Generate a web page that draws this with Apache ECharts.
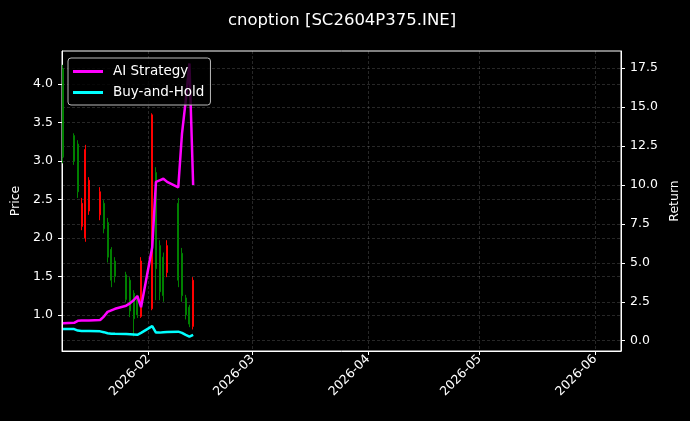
<!DOCTYPE html>
<html>
<head>
<meta charset="utf-8">
<script src="https://cdn.jsdelivr.net/npm/echarts@6/dist/echarts.min.js"></script>
<style>
html,body{margin:0;padding:0;background:#000;}
#chart{width:690px;height:421px;}
</style>
</head>
<body>
<div id="chart"></div>
<script>
// ---- data ----
const dates = ['2026-01-09','2026-01-12','2026-01-13','2026-01-14','2026-01-15','2026-01-16',
  '2026-01-19','2026-01-20','2026-01-21','2026-01-22','2026-01-23',
  '2026-01-26','2026-01-27','2026-01-28','2026-01-29','2026-01-30',
  '2026-02-02','2026-02-03','2026-02-04','2026-02-05','2026-02-06',
  '2026-02-09','2026-02-10','2026-02-11','2026-02-12','2026-02-13'];
const openP  = [4.20,3.33,3.22,2.15,2.00,2.35,2.30,2.45,2.20,1.85,1.70,1.52,1.45,1.28,1.22,0.98,1.08,2.85,1.90,1.75,1.55,2.45,1.80,1.22,1.10,0.85];
const closeP = [3.05,3.00,2.60,2.45,3.15,2.75,2.60,2.12,1.75,1.45,1.50,1.20,1.05,0.95,1.00,1.70,3.60,1.60,1.30,1.25,1.90,1.45,1.25,1.00,0.88,1.45];
const lowP   = [2.97,2.95,2.52,2.10,1.95,2.30,2.23,2.06,1.68,1.36,1.42,1.16,0.97,0.72,0.96,0.96,1.06,1.19,1.19,1.17,1.49,1.36,1.17,0.94,0.84,0.81];
const highP  = [4.25,3.36,3.27,2.52,3.21,2.79,2.66,2.49,2.26,1.88,1.75,1.56,1.49,1.32,1.26,1.75,3.62,2.92,1.97,1.81,1.97,2.52,1.87,1.26,1.13,1.49];
const aiReturn = [1.12,1.15,1.28,1.30,1.30,1.30,1.33,1.55,1.85,1.95,2.05,2.25,2.40,2.60,2.87,2.15,6.00,10.2,10.3,10.4,10.2,9.85,13.3,15.4,17.8,10.0];
const bhReturn = [0.75,0.75,0.65,0.63,0.62,0.62,0.60,0.55,0.48,0.45,0.44,0.43,0.42,0.40,0.38,0.50,0.94,0.52,0.52,0.55,0.56,0.58,0.50,0.37,0.26,0.38];
const priceTicks = [1.0,1.5,2.0,2.5,3.0,3.5,4.0];
const returnTicks = [0,2.5,5,7.5,10,12.5,15,17.5];
const monthTicks = ['2026-02-01','2026-03-01','2026-04-01','2026-05-01','2026-06-01'];
const titleText = 'cnoption [SC2604P375.INE]';

// ---- build ----
const t = s => new Date(s + 'T00:00:00').getTime();
const candleData = dates.map((d,i) => [t(d), openP[i], closeP[i], lowP[i], highP[i]]);
const aiData = dates.map((d,i) => [t(d), aiReturn[i]]);
const bhData = dates.map((d,i) => [t(d), bhReturn[i]]);
const monthVals = monthTicks.map(t);

const font = 'DejaVu Sans';
const gridLine = {show:true, lineStyle:{color:'rgba(255,255,255,0.22)', width:0.7, type:[3,2]}};

const chart = echarts.init(document.getElementById('chart'), null, {renderer:'canvas'});
chart.setOption({
  animation:false,
  backgroundColor:'#000',
  textStyle:{fontFamily:font},
  title:{text:titleText, left:223, top:7,
    textStyle:{color:'#fff', fontSize:16.5, fontWeight:'normal', fontFamily:font}},
  legend:{
    data:['AI Strategy','Buy-and-Hold'],
    orient:'vertical', left:68, top:58, icon:'rect',
    padding:[6,6,5,5], itemGap:6, itemWidth:30, itemHeight:3,
    backgroundColor:'rgba(0,0,0,0.8)', borderColor:'#bbb', borderWidth:1, borderRadius:3,
    textStyle:{color:'#fff', fontSize:13.5, lineHeight:15, fontFamily:font, padding:[0,0,0,5]}
  },
  grid:{left:62, right:69, top:51, bottom:70, show:true, borderColor:'#fff', borderWidth:1, backgroundColor:'#000'},
  xAxis:{
    type:'value',
    min:t('2026-01-08') + 18*3600*1000,
    max:t('2026-06-08'),
    axisLine:{show:true, onZero:false, lineStyle:{color:'#fff'}},
    axisTick:{show:true, length:4, lineStyle:{color:'#fff'}, customValues:monthVals},
    axisLabel:{color:'#fff', fontSize:12.5, fontFamily:font, rotate:45, margin:6,
      customValues:monthVals,
      formatter:v => { const d=new Date(v); return d.getFullYear()+'-'+String(d.getMonth()+1).padStart(2,'0'); }},
    splitLine:gridLine
  },
  yAxis:[{
    type:'value', min:0.53, max:4.43, position:'left',
    name:'Price', nameLocation:'middle', nameGap:37,
    nameTextStyle:{color:'#fff', fontSize:12.5, fontFamily:font},
    axisLine:{show:true, lineStyle:{color:'#fff'}},
    axisTick:{show:true, length:4, lineStyle:{color:'#fff'}, customValues:priceTicks},
    axisLabel:{color:'#fff', fontSize:12.5, fontFamily:font, margin:9, customValues:priceTicks,
      formatter:v => v.toFixed(1)},
    splitLine:gridLine
  },{
    type:'value', min:-0.66, max:18.6, position:'right',
    name:'Return', nameLocation:'middle', nameGap:44,
    nameTextStyle:{color:'#fff', fontSize:12.5, fontFamily:font},
    axisLine:{show:true, lineStyle:{color:'#fff'}},
    axisTick:{show:true, length:4, lineStyle:{color:'#fff'}, customValues:returnTicks},
    axisLabel:{color:'#fff', fontSize:12.5, fontFamily:font, margin:9, customValues:returnTicks,
      formatter:v => v.toFixed(1)},
    splitLine:gridLine
  }],
  series:[{
    type:'candlestick', name:'Price', yAxisIndex:0,
    data:candleData, encode:{x:0, y:[1,2,3,4]},
    barWidth:1.5,
    itemStyle:{color:'#ff0000', color0:'#008000', borderColor:'#ff0000', borderColor0:'#008000', borderWidth:1}
  },{
    type:'line', name:'AI Strategy', yAxisIndex:1, data:aiData,
    symbol:'none', lineStyle:{color:'#ff00ff', width:2.5}, itemStyle:{color:'#ff00ff'}
  },{
    type:'line', name:'Buy-and-Hold', yAxisIndex:1, data:bhData,
    symbol:'none', lineStyle:{color:'#00ffff', width:2.5}, itemStyle:{color:'#00ffff'}
  }]
});
</script>
</body>
</html>
